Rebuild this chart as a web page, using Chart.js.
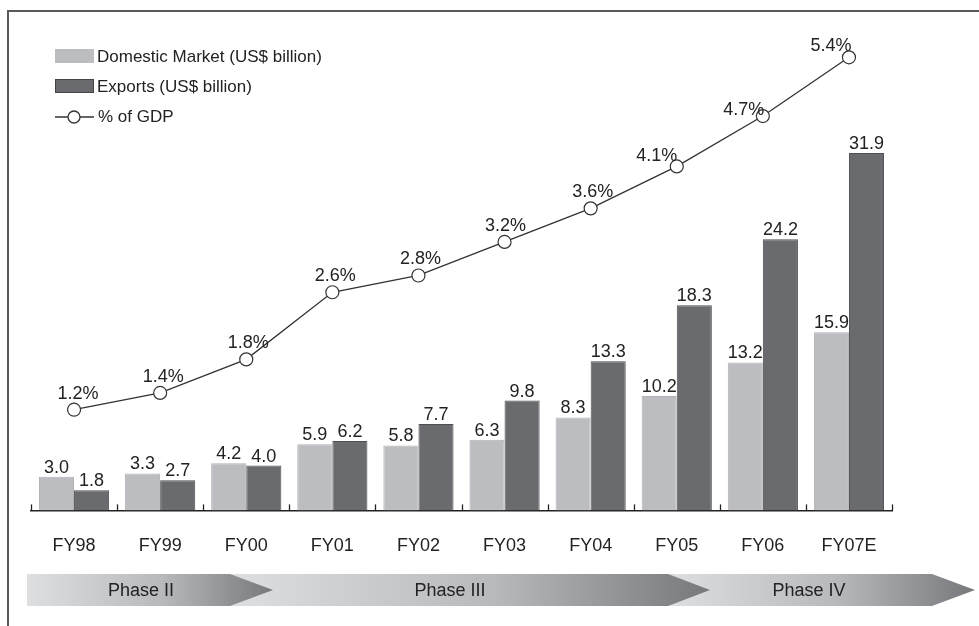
<!DOCTYPE html>
<html>
<head>
<meta charset="utf-8">
<script src="https://cdn.jsdelivr.net/npm/chart.js@4/dist/chart.umd.min.js"></script>
<style>
  html, body { margin: 0; padding: 0; background: #fff; }
  #wrap { width: 979px; height: 626px; position: relative; }
</style>
</head>
<body>
<div id="wrap"><canvas id="c" width="979" height="626"></canvas></div>
<script>
const YEARS = ['FY98', 'FY99', 'FY00', 'FY01', 'FY02', 'FY03', 'FY04', 'FY05', 'FY06', 'FY07E'];
const DOMESTIC = [3.0, 3.3, 4.2, 5.9, 5.8, 6.3, 8.3, 10.2, 13.2, 15.9];
const EXPORTS = [1.8, 2.7, 4.0, 6.2, 7.7, 9.8, 13.3, 18.3, 24.2, 31.9];
const GDP_SHARE = [1.2, 1.4, 1.8, 2.6, 2.8, 3.2, 3.6, 4.1, 4.7, 5.4];
const PHASES = ['Phase II', 'Phase III', 'Phase IV'];

const DOMESTIC_COLOR = '#bcbdc1';
const EXPORTS_COLOR = '#6a6b6f';
const LINE_COLOR = '#333';
const TEXT_COLOR = '#222';
const FONT = '"Liberation Sans", Arial, sans-serif';

// where the % labels sit relative to their points (the last three hug the marker)
const pctLabelDx = [4, 3, 2, 3, 2, 1, 2, -20, -19, -18];
const pctLabelDy = [16, 16, 16, 16, 16, 16, 16, 10, 6, 11];

// phase arrows: body start, body end, tip, label centre
const phaseArrows = [
  [27, 230, 273, 141],
  [230, 668, 710, 450],
  [667, 932, 975, 809],
];

const frame = {
  id: 'frame',
  beforeDraw(chart) {
    let ctx = chart.ctx;
    ctx.save();
    ctx.fillStyle = '#fff';
    ctx.fillRect(0, 0, chart.width, chart.height);
    ctx.strokeStyle = '#5a5a5a';
    ctx.lineWidth = 2;
    ctx.beginPath();
    ctx.moveTo(979, 11);
    ctx.lineTo(8, 11);
    ctx.lineTo(8, 626);
    ctx.stroke();
    ctx.restore();
  },
  afterDraw(chart) {
    let ctx = chart.ctx;
    let x = chart.scales.x;
    let bottom = chart.chartArea.bottom;
    ctx.save();

    // small upward ticks between categories
    ctx.strokeStyle = '#222';
    ctx.lineWidth = 1.3;
    let step = x.getPixelForValue(1) - x.getPixelForValue(0);
    for (let i = 0; i <= YEARS.length; i++) {
      let px = Math.round(x.getPixelForValue(0) - step / 2 + i * step) + 0.5;
      ctx.beginPath();
      ctx.moveTo(px, bottom);
      ctx.lineTo(px, bottom - 6);
      ctx.stroke();
    }

    // legend
    ctx.font = '17px ' + FONT;
    ctx.textBaseline = 'middle';
    ctx.fillStyle = DOMESTIC_COLOR;
    ctx.fillRect(55, 49, 39, 14);
    ctx.fillStyle = EXPORTS_COLOR;
    ctx.fillRect(55, 79, 39, 14);
    ctx.strokeStyle = '#444';
    ctx.lineWidth = 1;
    ctx.strokeRect(55.5, 79.5, 38, 13);
    ctx.strokeStyle = LINE_COLOR;
    ctx.lineWidth = 1.3;
    ctx.beginPath();
    ctx.moveTo(55, 117);
    ctx.lineTo(94, 117);
    ctx.stroke();
    ctx.beginPath();
    ctx.arc(74, 117, 6, 0, Math.PI * 2);
    ctx.fillStyle = '#fff';
    ctx.fill();
    ctx.stroke();
    ctx.fillStyle = TEXT_COLOR;
    ctx.fillText('Domestic Market (US$ billion)', 97, 57);
    ctx.fillText('Exports (US$ billion)', 97, 87);
    ctx.fillText('% of GDP', 98, 117);

    // phase arrows, drawn right to left so each tip lies over the next body
    for (let i = phaseArrows.length - 1; i >= 0; i--) {
      let [x0, x1, tip, cx] = phaseArrows[i];
      let g = ctx.createLinearGradient(x0, 0, tip, 0);
      g.addColorStop(0, '#dedfe1');
      g.addColorStop(0.55, '#b8b9bc');
      g.addColorStop(1, '#77787b');
      ctx.fillStyle = g;
      ctx.beginPath();
      ctx.moveTo(x0, 574);
      ctx.lineTo(x1, 574);
      ctx.lineTo(tip, 590);
      ctx.lineTo(x1, 606);
      ctx.lineTo(x0, 606);
      ctx.closePath();
      ctx.fill();
    }
    ctx.font = '18px ' + FONT;
    ctx.textAlign = 'center';
    ctx.fillStyle = TEXT_COLOR;
    phaseArrows.forEach((a, i) => ctx.fillText(PHASES[i], a[3], 591));
    ctx.restore();
  },
  afterDatasetsDraw(chart) {
    let ctx = chart.ctx;
    ctx.save();
    ctx.font = '18px ' + FONT;
    ctx.fillStyle = TEXT_COLOR;
    ctx.textAlign = 'center';
    ctx.textBaseline = 'alphabetic';
    [0, 1].forEach(d => {
      chart.getDatasetMeta(d).data.forEach((bar, i) => {
        let v = chart.data.datasets[d].data[i];
        ctx.fillText(v.toFixed(1), bar.x, bar.y - 4);
      });
    });
    ctx.textBaseline = 'middle';
    chart.getDatasetMeta(2).data.forEach((pt, i) => {
      let v = GDP_SHARE[i];
      ctx.fillText(v.toFixed(1) + '%', pt.x + pctLabelDx[i], pt.y - pctLabelDy[i]);
    });
    ctx.restore();
  }
};

const data = {
  labels: YEARS,
  datasets: [
    {
      label: 'Domestic Market (US$ billion)',
      data: DOMESTIC,
      backgroundColor: DOMESTIC_COLOR,
      borderColor: '#b0b1b5',
      borderWidth: 1,
      yAxisID: 'y',
      order: 1,
    },
    {
      label: 'Exports (US$ billion)',
      data: EXPORTS,
      backgroundColor: EXPORTS_COLOR,
      borderColor: '#4e4f52',
      borderWidth: 1,
      yAxisID: 'y',
      order: 1,
    },
    {
      type: 'line',
      label: '% of GDP',
      data: GDP_SHARE,
      yAxisID: 'y2',
      borderColor: LINE_COLOR,
      borderWidth: 1.3,
      pointRadius: 6.5,
      pointBackgroundColor: '#fff',
      pointBorderColor: LINE_COLOR,
      pointBorderWidth: 1.2,
      tension: 0,
      order: 0,
    },
  ],
};

const config = {
  type: 'bar',
  data: data,
  options: {
    responsive: false,
    animation: false,
    layout: { padding: { left: 31, right: 87, top: 20, bottom: 44 } },
    plugins: { legend: { display: false }, tooltip: { enabled: false } },
    datasets: { bar: { categoryPercentage: 0.815, barPercentage: 1.0 } },
    scales: {
      x: {
        grid: { display: false, drawTicks: false },
        border: { display: true, color: '#222', width: 1.5 },
        ticks: { color: TEXT_COLOR, font: { family: FONT, size: 18 }, padding: 25, maxRotation: 0 },
      },
      y: { display: false, min: 0, max: 43.76 },
      y2: { display: false, min: 0, max: 5.845 },
    },
  },
  plugins: [frame],
};

new Chart(document.getElementById('c'), config);
</script>
</body>
</html>
